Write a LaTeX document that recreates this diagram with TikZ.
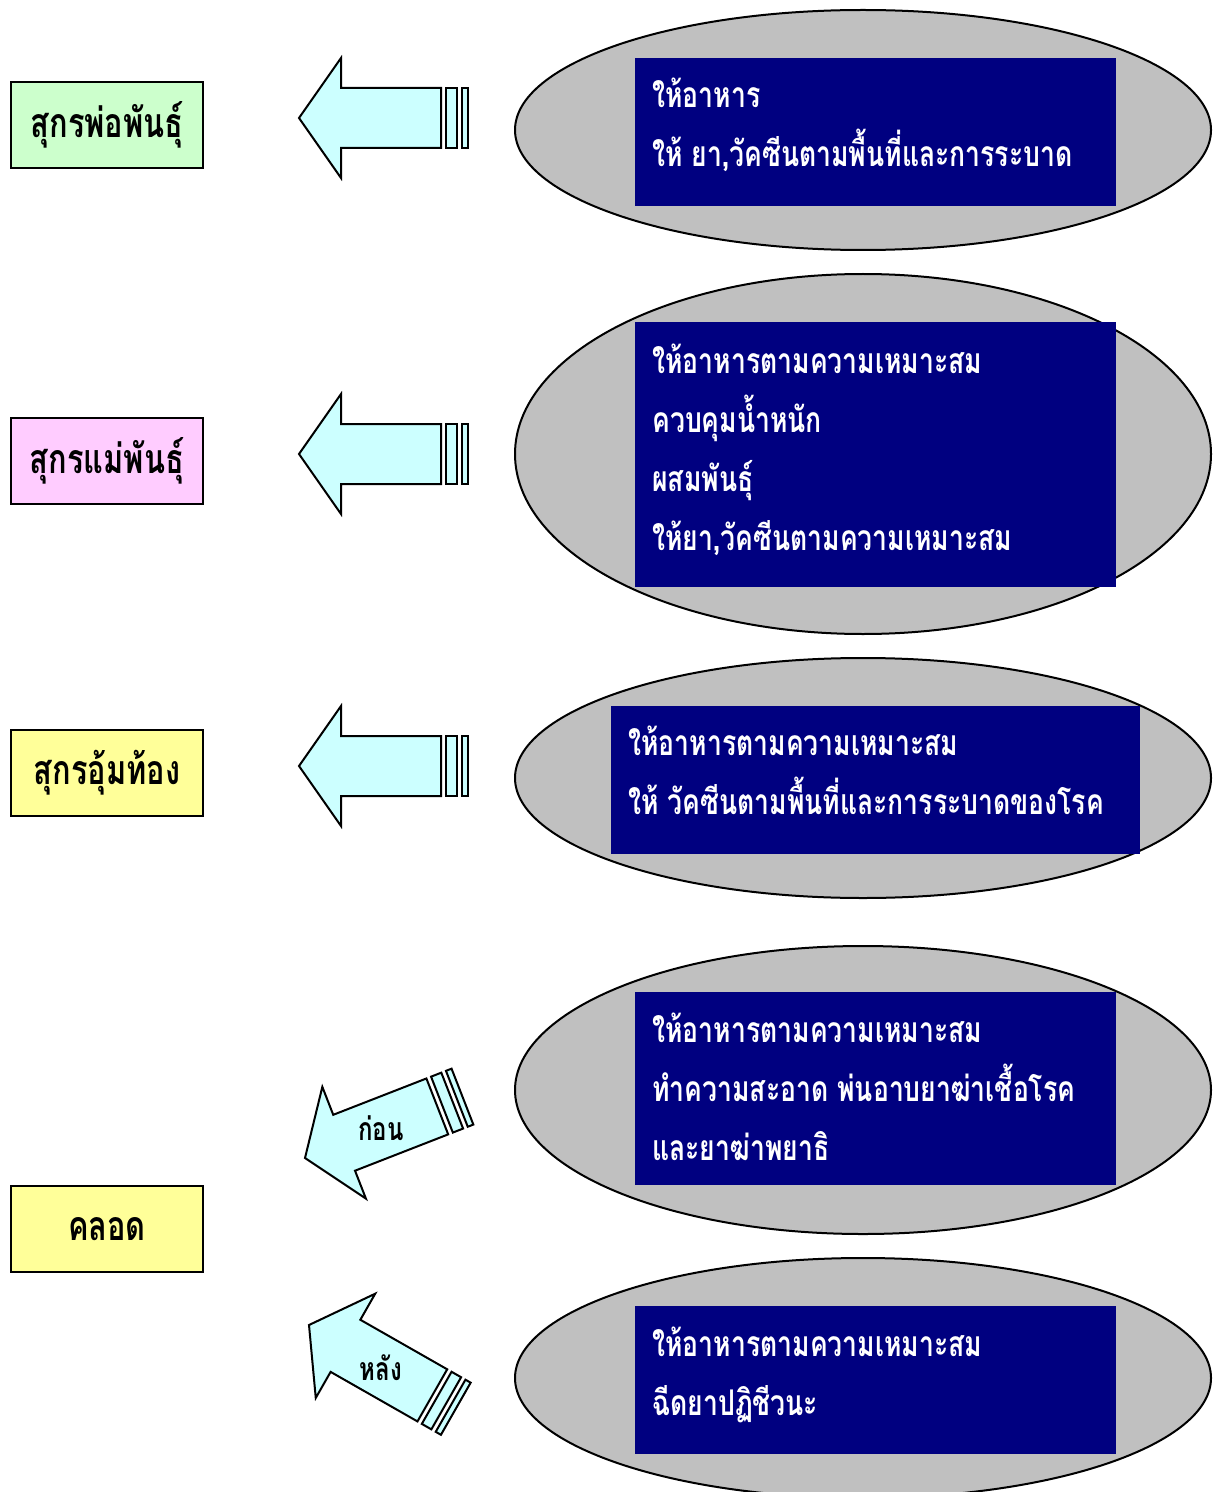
\documentclass[tikz,border=0pt]{standalone}
\usepackage{fontspec}
\newfontfamily\thaifont[Script=Thai,FakeStretch=0.75]{Loma}
\definecolor{boarfill}{HTML}{CCFFCC}
\definecolor{sowfill}{HTML}{FFCCFF}
\definecolor{lemonfill}{HTML}{FFFF99}
\definecolor{arrowfill}{HTML}{CCFFFF}
\definecolor{ovalfill}{HTML}{C0C0C0}
\definecolor{navy}{HTML}{000080}
\tikzset{
  catbox/.style={draw=black, line width=1pt, minimum width=96pt, minimum height=43pt,
    inner sep=0pt, font=\thaifont\bfseries\fontsize{20.5}{24}\selectfont},
  arrowline/.style={draw=black, line width=1pt, fill=arrowfill, line join=miter},
  oval/.style={draw=black, line width=1pt, fill=ovalfill},
  navybox/.style={fill=navy},
  itemtext/.style={anchor=base west, inner sep=0pt, text=white,
    font=\thaifont\bfseries\fontsize{17.7}{21}\selectfont},
  arrowlabel/.style={inner sep=0pt, font=\thaifont\bfseries\fontsize{16}{19}\selectfont},
  blockarrow/.pic={
    \draw[arrowline] (0,0) -- (42,-60) -- (42,-30) -- (142,-30) -- (142,30)
      -- (42,30) -- (42,60) -- cycle;
    \draw[arrowline] (147,-30) rectangle (158,30);
    \draw[arrowline] (163,-30) rectangle (169,30);
  }
}
\begin{document}
\begin{tikzpicture}[x=0.5pt, y=-0.5pt]
\useasboundingbox (0,0) rectangle (1220,1492);
\clip (0,0) rectangle (1220,1492);

% left-hand categories
\node[catbox, fill=boarfill]  (boar)     at (107,125)  {สุกรพ่อพันธุ์};
\node[catbox, fill=sowfill]   (sow)      at (107,461)  {สุกรแม่พันธุ์};
\node[catbox, fill=lemonfill] (pregnant) at (107,773)  {สุกรอุ้มท้อง};
\node[catbox, fill=lemonfill] (farrow)   at (107,1229) {คลอด};

% block arrows pointing towards the categories
\pic (arrA) at (299,118) {blockarrow};
\pic (arrB) at (299,454) {blockarrow};
\pic (arrC) at (299,766) {blockarrow};
\pic[rotate=21.3] (arrD) at (305,1158) {blockarrow};
\pic[rotate=-29.7] (arrE) at (309,1325) {blockarrow};
\node[arrowlabel] (before) at (381,1128) {ก่อน};
\node[arrowlabel] (after)  at (381,1368) {หลัง};

% grey ovals
\draw[oval] (863,130)  ellipse [x radius=348, y radius=120];
\draw[oval] (863,454)  ellipse [x radius=348, y radius=180];
\draw[oval] (863,778)  ellipse [x radius=348, y radius=120];
\draw[oval] (863,1090) ellipse [x radius=348, y radius=144];
\draw[oval] (863,1378) ellipse [x radius=348, y radius=120];

% navy panels
\fill[navybox] (635,58)   rectangle (1116,206);
\fill[navybox] (635,322)  rectangle (1116,587);
\fill[navybox] (611,706)  rectangle (1140,854);
\fill[navybox] (635,992)  rectangle (1116,1185);
\fill[navybox] (635,1306) rectangle (1116,1454);

% panel texts
\node[itemtext] (a1) at (652,108) {ให้อาหาร};
\node[itemtext] (a2) at (652,167) {ให้ ยา,วัคซีนตามพื้นที่และการระบาด};

\node[itemtext] (b1) at (652,373) {ให้อาหารตามความเหมาะสม};
\node[itemtext] (b2) at (652,432) {ควบคุมน้ำหนัก};
\node[itemtext] (b3) at (652,491) {ผสมพันธุ์};
\node[itemtext] (b4) at (652,550) {ให้ยา,วัคซีนตามความเหมาะสม};

\node[itemtext] (c1) at (628,755) {ให้อาหารตามความเหมาะสม};
\node[itemtext] (c2) at (628,814) {ให้ วัคซีนตามพื้นที่และการระบาดของโรค};

\node[itemtext] (d1) at (652,1042) {ให้อาหารตามความเหมาะสม};
\node[itemtext] (d2) at (652,1101) {ทำความสะอาด พ่นอาบยาฆ่าเชื้อโรค};
\node[itemtext] (d3) at (652,1160) {และยาฆ่าพยาธิ};

\node[itemtext] (e1) at (652,1356) {ให้อาหารตามความเหมาะสม};
\node[itemtext] (e2) at (652,1415) {ฉีดยาปฏิชีวนะ};
\end{tikzpicture}
\end{document}
